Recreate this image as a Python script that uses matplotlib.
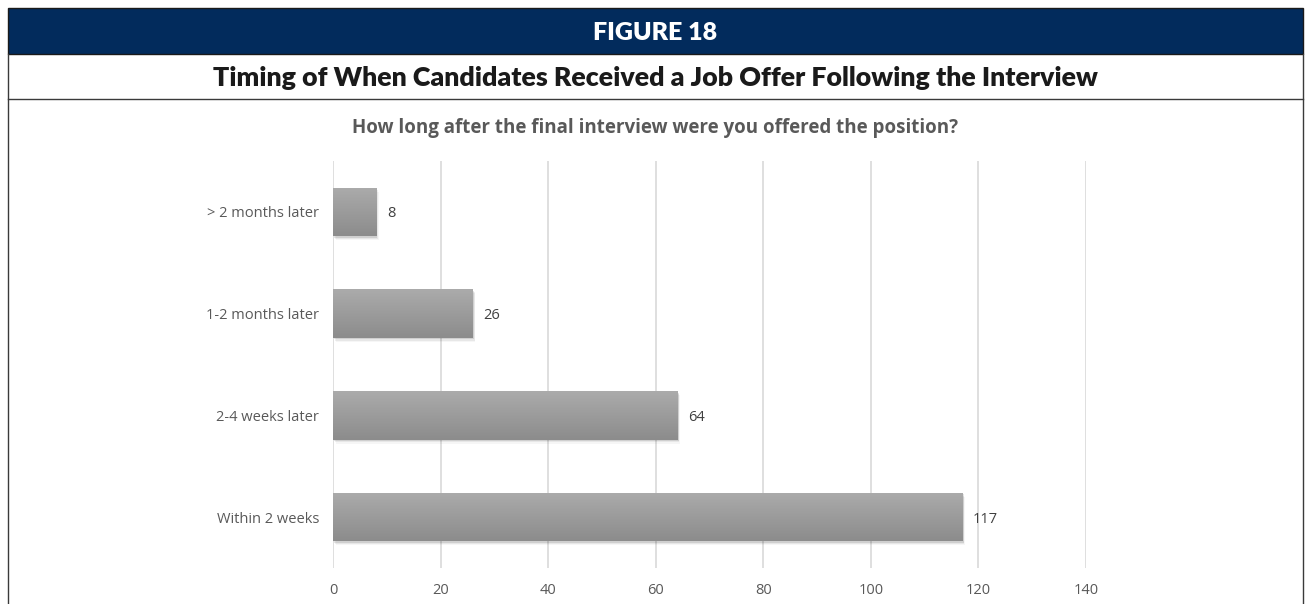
import numpy as np
import matplotlib
matplotlib.use("Agg")
import matplotlib.pyplot as plt
from matplotlib.patches import Rectangle
from matplotlib.lines import Line2D
from matplotlib.colors import LinearSegmentedColormap

categories = ["Within 2 weeks", "2-4 weeks later", "1-2 months later", "> 2 months later"]
counts = [117, 64, 26, 8]
x_ticks = [0, 20, 40, 60, 80, 100, 120, 140]

fig_label = "FIGURE 18"
title = "Timing of When Candidates Received a Job Offer Following the Interview"
question = "How long after the final interview were you offered the position?"

W, H = 1306, 604
fig = plt.figure(figsize=(W / 100, H / 100), dpi=100)
fig.patch.set_facecolor("white")


def fx(px):
    return px / W


def fy(py):
    return 1 - py / H


# frame: navy header, title band, side borders
fig.patches.append(Rectangle((fx(8), fy(54)), fx(1303 - 8), fy(8) - fy(54),
                             transform=fig.transFigure, facecolor="#022b5c",
                             edgecolor="#1a1a1a", linewidth=1.0, zorder=0))
border = dict(transform=fig.transFigure, color="#3a3a3a", linewidth=1.0)
fig.lines.append(Line2D([fx(8), fx(8)], [fy(54), 0], **border))
fig.lines.append(Line2D([fx(1303), fx(1303)], [fy(54), 0], **border))
fig.lines.append(Line2D([fx(8), fx(1303)], [fy(99), fy(99)], **border))

fig.text(fx(655), fy(33), fig_label, color="white", fontsize=18, fontweight="heavy",
         family="Lato", ha="center", va="center")
fig.text(fx(655), fy(78), title, color="#1a1a1a", fontsize=19.3, fontweight="heavy",
         family="Lato", ha="center", va="center")
fig.text(fx(655), fy(128), question, color="#595959", fontsize=13.5, fontweight="bold",
         family="Open Sans", ha="center", va="center")

ax = fig.add_axes([fx(333), fy(568), fx(1086 - 333), fy(161) - fy(568)])

ypos = np.arange(len(categories))
bar_h = 0.475
bars = ax.barh(ypos, counts, height=bar_h, color="#9e9e9e", zorder=3)

# soft drop shadow and vertical gradient fill for each bar
shade = LinearSegmentedColormap.from_list("shade", ["#8c8c8c", "#ababab"])
grad = np.linspace(0, 1, 64).reshape(-1, 1)
for rect, y, v in zip(bars, ypos, counts):
    for k, a in enumerate([0.10, 0.06, 0.035]):
        ax.add_patch(Rectangle((0.25 + 0.12 * k, y - bar_h / 2 - 0.015 - 0.012 * k),
                               v, bar_h, facecolor="#000000", alpha=a,
                               edgecolor="none", zorder=2))
    im = ax.imshow(grad, cmap=shade, aspect="auto",
                   extent=(0, v, y - bar_h / 2, y + bar_h / 2), origin="lower", zorder=4)
    im.set_clip_path(rect)
    ax.text(v + 2.0, y - 0.02, str(v), color="#404040", fontsize=10.5, family="Open Sans",
            ha="left", va="center", zorder=5)

ax.set_xlim(0, 140)
ax.set_ylim(-0.5, len(categories) - 0.5)
ax.set_xticks(x_ticks)
ax.xaxis.grid(True, color="#d9d9d9", linewidth=1.2, zorder=0)
ax.set_axisbelow(True)
ax.set_yticks(ypos)
ax.set_yticklabels(categories)
for s in ax.spines.values():
    s.set_visible(False)
ax.tick_params(axis="both", length=0, colors="#595959", labelsize=10.5)
ax.tick_params(axis="x", pad=11)
ax.tick_params(axis="y", pad=10)
for lab in ax.get_xticklabels() + ax.get_yticklabels():
    lab.set_family("Open Sans")

fig.savefig("out.png", dpi=100)
